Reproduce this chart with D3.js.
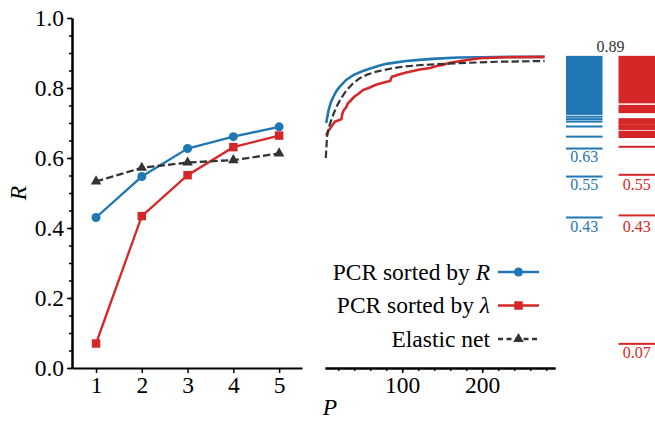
<!DOCTYPE html>
<html>
<head>
<meta charset="utf-8">
<script src="https://cdn.jsdelivr.net/npm/d3@7"></script>
<style>
  body { margin: 0; background: #fff; }
  svg { display: block; font-family: 'Liberation Serif', 'Times New Roman', serif; }
</style>
</head>
<body>
<svg id="chart" width="655" height="421"></svg>
<script>
const blue = '#1f77b4'
const red = '#d62728'
const dark = '#333333'
const fontSize = 23.5

// left panel: first P components
const pValues = [1, 2, 3, 4, 5]
const pcrByR = [0.43, 0.547, 0.627, 0.661, 0.689]
const pcrByLambda = [0.07, 0.434, 0.551, 0.631, 0.664]
const elasticNet = [0.533, 0.572, 0.587, 0.594, 0.613]

// right panel: all P
const curveByR = [[5, 0.70], [6, 0.712], [8, 0.737], [11, 0.76], [14, 0.775], [18, 0.792], [22, 0.804], [30, 0.823], [39, 0.837], [50, 0.848], [60, 0.856], [70, 0.863], [80, 0.869], [95, 0.874], [105, 0.877], [125, 0.881], [143, 0.884], [170, 0.887], [200, 0.888], [240, 0.889], [278, 0.889]]
const curveByLambda = [[5, 0.664], [7, 0.675], [10, 0.685], [13, 0.695], [16, 0.704], [20, 0.707], [24, 0.711], [25, 0.725], [27, 0.737], [30, 0.745], [32, 0.756], [36, 0.765], [40, 0.775], [45, 0.783], [51, 0.794], [58, 0.8], [68, 0.81], [76, 0.815], [85, 0.82], [87, 0.832], [95, 0.838], [105, 0.844], [115, 0.849], [122, 0.853], [135, 0.857], [143, 0.863], [150, 0.866], [160, 0.872], [175, 0.878], [197, 0.885], [230, 0.888], [278, 0.889]]
const curveElastic = [[4.5, 0.6], [6, 0.66], [8, 0.685], [10, 0.7], [14, 0.725], [18, 0.747], [24, 0.772], [30, 0.792], [38, 0.812], [47, 0.828], [57, 0.839], [68, 0.847], [85, 0.855], [101, 0.861], [120, 0.865], [143, 0.868], [170, 0.871], [218, 0.875], [278, 0.877]]

// right strip: R of every model (single lines and dense bands)
const stripNames = ['PCR sorted by R', 'PCR sorted by λ']
const blueLines = [0.43, 0.547, 0.627, 0.661, 0.69, 0.704, 0.711, 0.718, 0.726]
const blueBands = [[0.73, 0.889]]
const redLines = [0.069, 0.436, 0.552, 0.632]
const redBands = [[0.66, 0.675], [0.683, 0.693], [0.698, 0.711], [0.731, 0.749], [0.759, 0.889]]
const blueLabels = [0.63, 0.55, 0.43]
const redLabels = [0.55, 0.43, 0.07]
const topLabel = 0.89

const svg = d3.select('#chart')

const y = d3.scaleLinear().domain([0, 1]).range([368, 18])
const xL = d3.scaleLinear().domain([0.475, 5.5]).range([72, 302])
const xR = d3.scaleLinear().domain([3.5, 291]).range([325, 555])
const xS = d3.scaleBand().domain(stripNames).range([566, 655]).paddingInner(0.305)

const styleAxis = g => {
  g.attr('font-family', null).attr('font-size', null)
  g.select('.domain').attr('stroke', '#000').attr('stroke-width', 2)
  g.selectAll('.tick line').attr('stroke', '#000').attr('stroke-width', 1.5)
  g.selectAll('.tick text').attr('font-size', fontSize).attr('fill', '#000')
}

// y axis (left)
svg.append('g')
  .attr('transform', 'translate(72,0)')
  .call(d3.axisLeft(y).tickValues(d3.range(0, 1.0001, 0.05)).tickSize(3).tickFormat('').tickSizeOuter(0))
  .call(styleAxis)
svg.append('g')
  .attr('transform', 'translate(72,0)')
  .call(d3.axisLeft(y).tickValues([0, 0.2, 0.4, 0.6, 0.8, 1.0]).tickSize(5).tickPadding(3).tickFormat(d3.format('.1f')).tickSizeOuter(0))
  .call(styleAxis)
  .call(g => g.selectAll('.tick text').attr('dy', '0.33em'))

// x axis (left panel)
svg.append('g')
  .attr('transform', 'translate(0,368)')
  .call(d3.axisBottom(xL).tickValues(pValues).tickSize(5).tickPadding(3).tickFormat(d3.format('d')).tickSizeOuter(0))
  .call(styleAxis)

// x axis (right panel)
svg.append('g')
  .attr('transform', 'translate(0,368)')
  .call(d3.axisBottom(xR).tickValues(d3.range(20, 281, 20)).tickSize(3).tickFormat('').tickSizeOuter(0))
  .call(styleAxis)
svg.append('g')
  .attr('transform', 'translate(0,368)')
  .call(d3.axisBottom(xR).tickValues([100, 200]).tickSize(5).tickPadding(3).tickFormat(d3.format('d')).tickSizeOuter(0))
  .call(styleAxis)

// axis labels
svg.append('text')
  .attr('transform', 'translate(26,193) rotate(-90)')
  .attr('text-anchor', 'middle')
  .attr('font-size', fontSize).attr('font-style', 'italic')
  .text('R')
svg.append('text')
  .attr('x', 330).attr('y', 415)
  .attr('text-anchor', 'middle')
  .attr('font-size', fontSize).attr('font-style', 'italic')
  .text('P')

// left panel series
const series = [
  { name: 'PCR sorted by ', sym: 'R', values: pcrByR, curve: curveByR, color: blue, marker: d3.symbolCircle, size: 64, dash: null },
  { name: 'PCR sorted by ', sym: 'λ', values: pcrByLambda, curve: curveByLambda, color: red, marker: d3.symbolSquare, size: 72, dash: null },
  { name: 'Elastic net', sym: '', values: elasticNet, curve: curveElastic, color: dark, marker: d3.symbolTriangle, size: 48, dash: '7.4,3.2' }
]

const lineL = d3.line().x((d, i) => xL(pValues[i])).y(d => y(d))
const lineR = d3.line().x(d => xR(d[0])).y(d => y(d[1]))

series.forEach(s => {
  svg.append('path')
    .attr('d', lineL(s.values))
    .attr('fill', 'none')
    .attr('stroke', s.color)
    .attr('stroke-width', 2.3)
    .attr('stroke-dasharray', s.dash)

  svg.selectAll(null)
    .data(s.values)
    .enter()
    .append('path')
    .attr('d', d3.symbol().type(s.marker).size(s.size))
    .attr('transform', (d, i) => `translate(${xL(pValues[i])},${y(d)})`)
    .attr('fill', s.color)

  svg.append('path')
    .attr('d', lineR(s.curve))
    .attr('fill', 'none')
    .attr('stroke', s.color)
    .attr('stroke-width', s.dash ? 2.2 : 2.6)
    .attr('stroke-dasharray', s.dash)
})

// legend
series.forEach((s, i) => {
  const ly = 272 + i * 33.5
  const t = svg.append('text')
    .attr('x', 490).attr('y', ly + 7.5)
    .attr('text-anchor', 'end')
    .attr('font-size', fontSize)
  t.append('tspan').text(s.name)
  if (s.sym) t.append('tspan').attr('font-style', 'italic').text(s.sym)

  svg.append('line')
    .attr('x1', 498).attr('x2', 539)
    .attr('y1', ly).attr('y2', ly)
    .attr('stroke', s.color)
    .attr('stroke-width', 2.3)
    .attr('stroke-dasharray', s.dash ? '5,3.5' : null)
  svg.append('path')
    .attr('d', d3.symbol().type(s.marker).size(s.size))
    .attr('transform', `translate(518.5,${ly})`)
    .attr('fill', s.color)
})

// strip of R values
const strips = [
  { key: stripNames[0], lines: blueLines, bands: blueBands, labels: blueLabels, color: blue },
  { key: stripNames[1], lines: redLines, bands: redBands, labels: redLabels, color: red }
]

strips.forEach(s => {
  const x0 = xS(s.key)
  const w = xS.bandwidth()
  svg.selectAll(null)
    .data(s.lines)
    .enter()
    .append('rect')
    .attr('x', x0).attr('width', w)
    .attr('y', d => y(d) - 1).attr('height', 2)
    .attr('fill', s.color)
  svg.selectAll(null)
    .data(s.bands)
    .enter()
    .append('rect')
    .attr('x', x0).attr('width', w)
    .attr('y', d => y(d[1]) - 1).attr('height', d => y(d[0]) - y(d[1]) + 2)
    .attr('fill', s.color)
  svg.selectAll(null)
    .data(s.labels)
    .enter()
    .append('text')
    .attr('x', x0 + w / 2)
    .attr('y', d => y(d) + 14.5)
    .attr('text-anchor', 'middle')
    .attr('font-size', 16)
    .attr('fill', s.color)
    .text(d => d3.format('.2f')(d))
})

svg.append('text')
  .attr('x', 610.5).attr('y', y(topLabel) - 4.5)
  .attr('text-anchor', 'middle')
  .attr('font-size', 16)
  .attr('fill', dark)
  .text(d3.format('.2f')(topLabel))
</script>
</body>
</html>
